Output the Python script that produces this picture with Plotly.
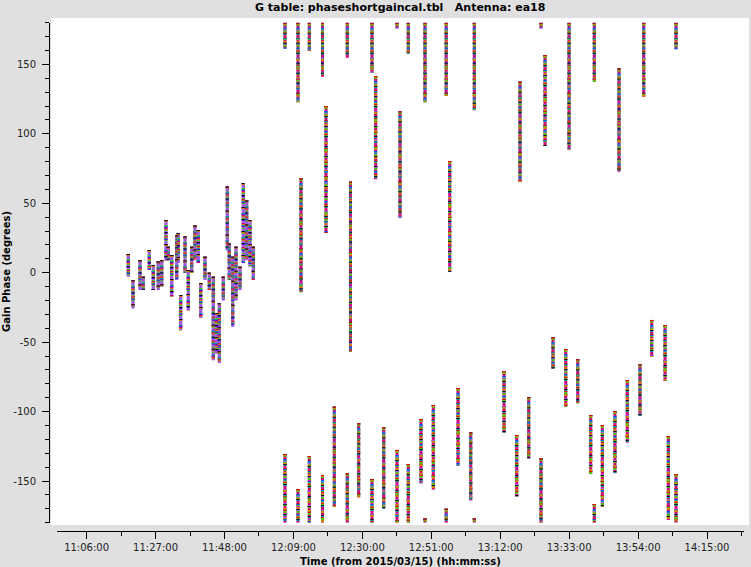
import plotly.graph_objects as go
import pandas as pd

DATE = "2015-03-15"

# --- early, wiggly section (time, max phase, min phase) ---
early_times = ["11:18:42", "11:20:08", "11:22:16", "11:23:16", "11:25:06", "11:26:19",
               "11:27:50", "11:28:53", "11:30:11", "11:30:53", "11:31:56", "11:33:27",
               "11:33:56", "11:34:40", "11:35:59", "11:36:59", "11:38:01", "11:39:01",
               "11:40:02", "11:40:46", "11:42:04", "11:43:23", "11:44:36", "11:45:38",
               "11:46:26", "11:47:39", "11:48:52", "11:49:28", "11:50:31", "11:51:31",
               "11:52:44", "11:53:44", "11:54:46", "11:55:47", "11:56:47"]
early_hi = [13.5, -5.5, 9, -3, 16.3, 5.5, 8, 9, 38, 18.7, 12.7, 27, 28.5, -16, 26, 2, 18.7,
            34, 30.7, -7.5, 11.5, 0, -3, -29, -22, -3, 62, 21, 11.5, 18.7, 4.3, 64.5, 52,
            38, 18.7]
early_lo = [-2.9, -25.7, -12.5, -12.5, 2, -12.5, -12.5, -10, 9, 9, -17.3, -5, 7, -41.5, 0,
            -27, 0, 9, 7, -32.6, -5.3, -12.5, -63, -58, -65, -20, 16, -5, -39, -20, -12.5,
            7, 9, 4.3, -5]

# --- later scans (time, max phase, min phase); wrapped scans appear twice ---
scan_times = ["12:06:26", "12:06:26", "12:10:24", "12:10:24", "12:11:19", "12:13:51",
              "12:13:51", "12:17:52", "12:17:52", "12:18:56", "12:21:28", "12:25:25",
              "12:25:25", "12:26:24", "12:28:53", "12:32:57", "12:32:57", "12:34:04",
              "12:36:31", "12:40:34", "12:40:34", "12:41:29", "12:44:00", "12:44:00",
              "12:47:52", "12:49:05", "12:49:05", "12:51:37", "12:55:33", "12:55:33",
              "12:56:37", "12:59:09", "13:03:01", "13:04:07", "13:04:07", "13:13:10",
              "13:17:02", "13:18:02", "13:20:41", "13:24:26", "13:24:26", "13:25:39",
              "13:28:05", "13:31:58", "13:32:58", "13:35:37", "13:39:34", "13:40:40",
              "13:40:40", "13:43:07", "13:46:58", "13:48:11", "13:50:43", "13:54:35",
              "13:55:43", "13:58:09", "14:02:13", "14:03:13", "14:05:34", "14:05:34"]
scan_hi = [180, -130.5, 180, -155.7, 68, 180, -132, 180, -145.6, 120, -96.5, 180, -144.4,
           65.5, -108.4, 180, -148.5, 141.6, -111.3, 180, -127.6, 116.2, 180, -137.7,
           -105.3, 180, -177, -95.2, 180, -170, 80.4, -83, -115, 180, -177, -70.8, -116.8,
           137.5, -89.7, 180, -133.6, 156.7, -46.5, -55, 180, -62.3, -102.5, 180, -166.5,
           -109.6, -99.6, 147, -77.3, -66, 180, -34, -37.7, -117.6, 180, -145]
scan_lo = [161.5, -180, 122.7, -180, -14, 159.6, -180, 141, -180, 28.6, -168.5, 154.8,
           -180, -57, -161.7, 144, -180, 67.2, -169.6, 176, -180, 39.6, 158, -180, -151.6,
           122.7, -180, -156, 127.2, -180, 0.7, -139, -164, 117, -180, -115.2, -161.2,
           65.5, -133.6, 176, -180, 91.2, -69, -96.5, 88.8, -94, -145, 137.5, -180,
           -168.5, -144.4, 72.7, -122.4, -103, 126.7, -60.5, -77.8, -178, 160.8, -180]

tick_labels = ["11:06:00", "11:27:00", "11:48:00", "12:09:00", "12:30:00",
               "12:51:00", "13:12:00", "13:33:00", "13:54:00", "14:15:00"]
y_ticks = [-150, -100, -50, 0, 50, 100, 150]


def segs(times, hi, lo):
    xs, ys = [], []
    for t, h, l in zip(times, hi, lo):
        ts = f"{DATE} {t}"
        xs += [ts, ts, None]
        ys += [h, l, None]
    return xs, ys


fig = go.Figure()

scan_layers = [("#d4007a", "solid"), ("#009aa0", "2px,3px"), ("#4cc400", "3px,4px"),
               ("#1050ff", "1px,4px"), ("#d07c00", "2px,7px"), ("#9b55e8", "1px,6px"),
               ("#111111", "1px,9px"), ("#e01010", "1px,13px")]
early_layers = [("#9b55e8", "solid"), ("#6010d0", "2px,4px"), ("#4cc400", "1px,4px"),
                ("#d07c00", "2px,6px"), ("#009aa0", "1px,5px"), ("#d4007a", "1px,7px"),
                ("#111111", "1px,11px")]

ex, ey = segs(early_times, early_hi, early_lo)
for col, dash in early_layers:
    fig.add_trace(go.Scatter(x=ex, y=ey, mode="lines", hoverinfo="skip", showlegend=False,
                             line=dict(color=col, width=3.2, dash=dash)))
sx, sy = segs(scan_times, scan_hi, scan_lo)
for col, dash in scan_layers:
    fig.add_trace(go.Scatter(x=sx, y=sy, mode="lines", hoverinfo="skip", showlegend=False,
                             line=dict(color=col, width=3, dash=dash)))

tickvals = [pd.Timestamp(f"{DATE} {t}") for t in tick_labels]
minor_vals = [tv + pd.Timedelta(minutes=10.5) for tv in tickvals]

W, H = 751, 567
FONT = "DejaVu Sans"

fig.update_layout(
    width=W, height=H,
    margin=dict(l=0, r=0, t=0, b=0),
    paper_bgcolor="#e0e0e0",
    plot_bgcolor="rgba(0,0,0,0)",
    font=dict(family=FONT, size=10, color="#222222"),
    shapes=[dict(type="rect", xref="paper", yref="paper", layer="below",
                 x0=51 / W, x1=749 / W, y0=1 - 525 / H, y1=1 - 18 / H,
                 fillcolor="white", line=dict(width=0))],
    xaxis=dict(
        type="date",
        domain=[56.5 / W, 744 / W],
        anchor="free", position=1 - 530.5 / H,
        range=[f"{DATE} 10:56:50", f"{DATE} 14:26:16"],
        tickmode="array", tickvals=tickvals, ticktext=tick_labels,
        ticks="outside", ticklen=7, tickcolor="#000", tickwidth=1,
        showline=True, linecolor="#000", linewidth=1,
        showgrid=False, zeroline=False,
        minor=dict(tickvals=minor_vals, ticks="outside", ticklen=4, tickcolor="#000"),
        tickfont=dict(family=FONT, size=10, color="#222222"),
    ),
    yaxis=dict(
        domain=[1 - 522.7 / H, 1 - 22.7 / H],
        anchor="free", position=49 / W,
        range=[-180, 180],
        tickmode="array", tickvals=y_ticks, ticktext=[str(v) for v in y_ticks],
        ticks="outside", ticklen=7, tickcolor="#000", tickwidth=1,
        showline=True, linecolor="#000", linewidth=1,
        showgrid=False, zeroline=False,
        minor=dict(dtick=10, tick0=0, ticks="outside", ticklen=4, tickcolor="#000"),
        tickfont=dict(family=FONT, size=10, color="#222222"),
        ticklabelstandoff=4,
    ),
    annotations=[
        dict(text="<b>G table: phaseshortgaincal.tbl&nbsp;&nbsp;&nbsp;Antenna: ea18</b>",
             xref="paper", yref="paper", x=400 / W, y=1 - 7 / H,
             xanchor="center", yanchor="middle", showarrow=False,
             font=dict(family=FONT, size=11, color="#000")),
        dict(text="<b>Time (from 2015/03/15) (hh:mm:ss)</b>",
             xref="paper", yref="paper", x=400 / W, y=1 - 561 / H,
             xanchor="center", yanchor="middle", showarrow=False,
             font=dict(family=FONT, size=10, color="#000")),
        dict(text="<b>Gain Phase (degrees)</b>", textangle=-90,
             xref="paper", yref="paper", x=6 / W, y=1 - 272 / H,
             xanchor="center", yanchor="middle", showarrow=False,
             font=dict(family=FONT, size=10, color="#000")),
    ],
)

fig.write_html("out.html", config={"displayModeBar": False},
               post_script="document.body.style.margin='0';document.body.style.padding='0';")
